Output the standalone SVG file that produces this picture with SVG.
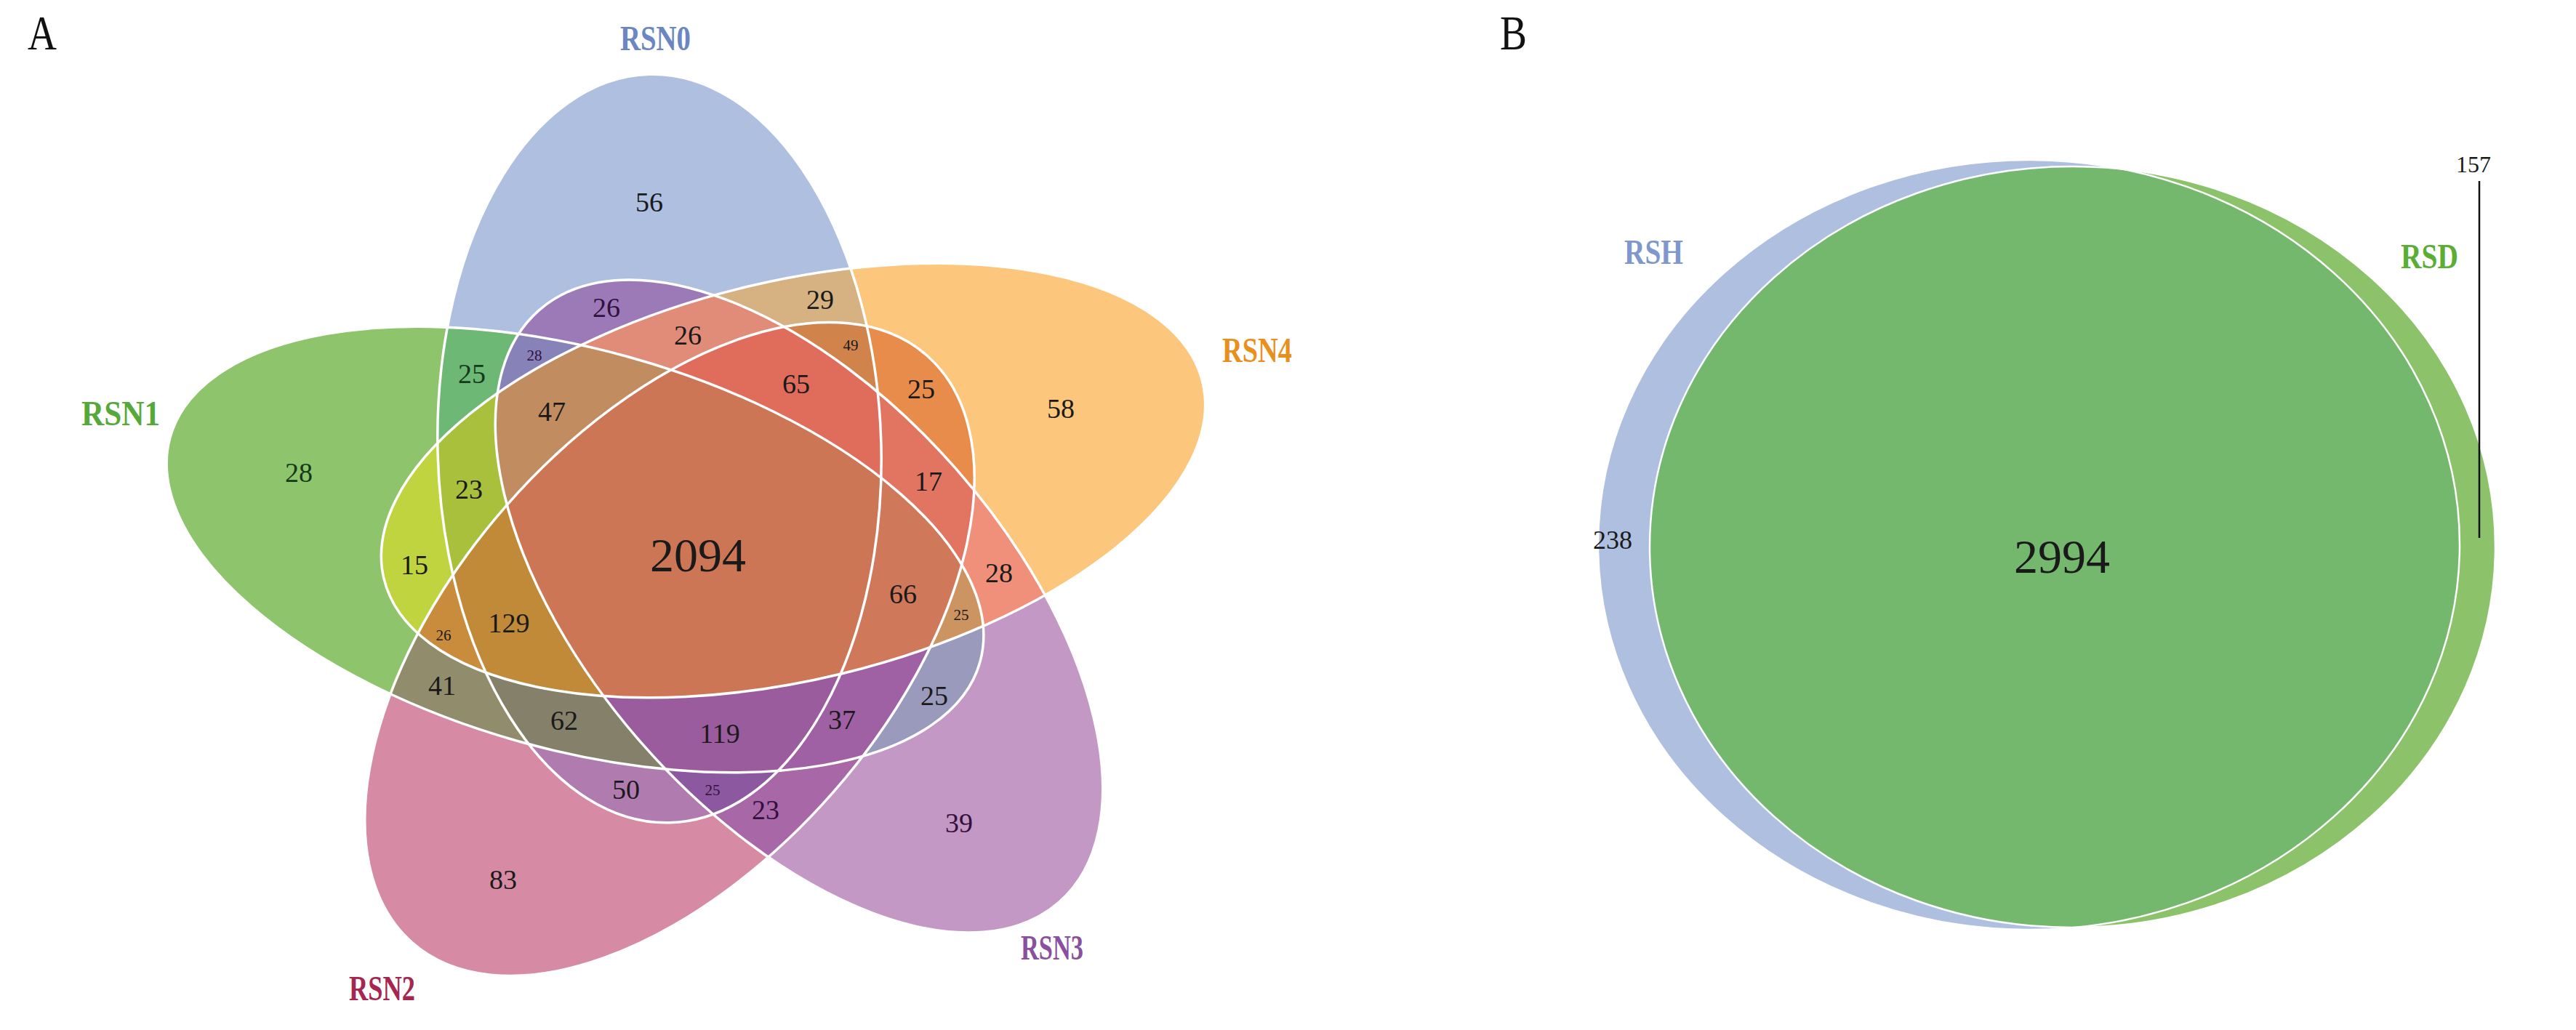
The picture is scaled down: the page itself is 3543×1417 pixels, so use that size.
<svg xmlns="http://www.w3.org/2000/svg" xmlns:xlink="http://www.w3.org/1999/xlink" width="3543" height="1417" viewBox="0 0 3543 1417">
<style>
 .num{font-family:"Liberation Serif",serif;font-size:38px;fill:#1a1a1a;text-anchor:middle}
 .sm{font-size:21px}
 .big{font-size:66px}
 .dp{fill:#33103f}
 .dg{fill:#143a1a}
 .cat{font-family:"Liberation Serif",serif;font-weight:bold;font-size:48px}
 .panel{font-family:"Liberation Serif",serif;font-size:68px;fill:#111}
 .edge{fill:none;stroke:#ffffff;stroke-width:3.5}
 .edgeB{fill:none;stroke:#ffffff;stroke-width:2.5}
</style>
<defs>
 <ellipse id="e0" cx="907" cy="617" rx="305" ry="515" transform="rotate(-1.6 907 617)"/>
 <ellipse id="e1" cx="791" cy="756" rx="578" ry="275" transform="rotate(15.5 791 756)"/>
 <ellipse id="e2" cx="921" cy="893" rx="537" ry="299" transform="rotate(-48.8 921 893)"/>
 <ellipse id="e3" cx="1099" cy="834" rx="542" ry="287" transform="rotate(48.7 1099 834)"/>
 <ellipse id="e4" cx="1091" cy="661" rx="579" ry="274" transform="rotate(-13.5 1091 661)"/>
 <clipPath id="c0"><use xlink:href="#e0"/></clipPath>
 <clipPath id="c1"><use xlink:href="#e1"/></clipPath>
 <clipPath id="c2"><use xlink:href="#e2"/></clipPath>
 <clipPath id="c3"><use xlink:href="#e3"/></clipPath>
 <ellipse id="eH" cx="2790.5" cy="749.5" rx="592.5" ry="529.5"/>
 <ellipse id="eD" cx="2850.5" cy="752.5" rx="581.5" ry="523.5"/>
 <clipPath id="clipH"><use xlink:href="#eH"/></clipPath>
</defs>
<rect width="3543" height="1417" fill="#ffffff"/>

<text class="panel" x="38" y="68" textLength="40" lengthAdjust="spacingAndGlyphs">A</text>
<text class="panel" x="2063" y="68" textLength="37" lengthAdjust="spacingAndGlyphs">B</text>

<!-- Panel A: five-set Venn; each set is a node -->
<g id="RSN0">
 <use xlink:href="#e0" fill="#aebfdf"/>
 <text class="cat" x="853" y="69" textLength="97" lengthAdjust="spacingAndGlyphs" fill="#6b86c3">RSN0</text>
</g>
<g id="RSN1">
 <use xlink:href="#e1" fill="#8ec46c"/>
 <text class="cat" x="112" y="585" textLength="108" lengthAdjust="spacingAndGlyphs" fill="#55a83a">RSN1</text>
</g>
<g id="RSN2">
 <use xlink:href="#e2" fill="#d68aa4"/>
 <text class="cat" x="480" y="1376" textLength="91" lengthAdjust="spacingAndGlyphs" fill="#a52650">RSN2</text>
</g>
<g id="RSN3">
 <use xlink:href="#e3" fill="#c398c4"/>
 <text class="cat" x="1404" y="1320" textLength="86" lengthAdjust="spacingAndGlyphs" fill="#8b4f9f">RSN3</text>
</g>
<g id="RSN4">
 <use xlink:href="#e4" fill="#fcc67c"/>
 <text class="cat" x="1681" y="498" textLength="96" lengthAdjust="spacingAndGlyphs" fill="#e8901e">RSN4</text>
</g>

<!-- overlap regions, painted from 2-set to 5-set intersections -->
<g id="overlaps">
 <g clip-path="url(#c0)"><use xlink:href="#e1" fill="#6cb874"/></g>
 <g clip-path="url(#c0)"><use xlink:href="#e2" fill="#b07cb0"/></g>
 <g clip-path="url(#c0)"><use xlink:href="#e3" fill="#9c7ab8"/></g>
 <g clip-path="url(#c0)"><use xlink:href="#e4" fill="#d6b282"/></g>
 <g clip-path="url(#c1)"><use xlink:href="#e2" fill="#908c6c"/></g>
 <g clip-path="url(#c1)"><use xlink:href="#e3" fill="#9a9abc"/></g>
 <g clip-path="url(#c1)"><use xlink:href="#e4" fill="#c0d440"/></g>
 <g clip-path="url(#c2)"><use xlink:href="#e3" fill="#a868a8"/></g>
 <g clip-path="url(#c2)"><use xlink:href="#e4" fill="#e88c4c"/></g>
 <g clip-path="url(#c3)"><use xlink:href="#e4" fill="#f0907a"/></g>

 <g clip-path="url(#c0)"><g clip-path="url(#c1)"><use xlink:href="#e2" fill="#84806a"/></g></g>
 <g clip-path="url(#c0)"><g clip-path="url(#c1)"><use xlink:href="#e3" fill="#8782b8"/></g></g>
 <g clip-path="url(#c0)"><g clip-path="url(#c1)"><use xlink:href="#e4" fill="#a8c03c"/></g></g>
 <g clip-path="url(#c0)"><g clip-path="url(#c2)"><use xlink:href="#e3" fill="#8c58a0"/></g></g>
 <g clip-path="url(#c0)"><g clip-path="url(#c2)"><use xlink:href="#e4" fill="#d0844c"/></g></g>
 <g clip-path="url(#c0)"><g clip-path="url(#c3)"><use xlink:href="#e4" fill="#e08c78"/></g></g>
 <g clip-path="url(#c1)"><g clip-path="url(#c2)"><use xlink:href="#e3" fill="#a060a4"/></g></g>
 <g clip-path="url(#c1)"><g clip-path="url(#c2)"><use xlink:href="#e4" fill="#c88c3c"/></g></g>
 <g clip-path="url(#c1)"><g clip-path="url(#c3)"><use xlink:href="#e4" fill="#cc9460"/></g></g>
 <g clip-path="url(#c2)"><g clip-path="url(#c3)"><use xlink:href="#e4" fill="#e27462"/></g></g>

 <g clip-path="url(#c0)"><g clip-path="url(#c1)"><g clip-path="url(#c2)"><use xlink:href="#e3" fill="#9a5c9c"/></g></g></g>
 <g clip-path="url(#c0)"><g clip-path="url(#c1)"><g clip-path="url(#c2)"><use xlink:href="#e4" fill="#c08a38"/></g></g></g>
 <g clip-path="url(#c0)"><g clip-path="url(#c1)"><g clip-path="url(#c3)"><use xlink:href="#e4" fill="#c08c60"/></g></g></g>
 <g clip-path="url(#c0)"><g clip-path="url(#c2)"><g clip-path="url(#c3)"><use xlink:href="#e4" fill="#e06c5c"/></g></g></g>
 <g clip-path="url(#c1)"><g clip-path="url(#c2)"><g clip-path="url(#c3)"><use xlink:href="#e4" fill="#d0785a"/></g></g></g>

 <g clip-path="url(#c0)"><g clip-path="url(#c1)"><g clip-path="url(#c2)"><g clip-path="url(#c3)"><use xlink:href="#e4" fill="#cc7656"/></g></g></g></g>
</g>

<g id="outlines">
 <use xlink:href="#e0" class="edge"/>
 <use xlink:href="#e1" class="edge"/>
 <use xlink:href="#e2" class="edge"/>
 <use xlink:href="#e3" class="edge"/>
 <use xlink:href="#e4" class="edge"/>
</g>

<g id="counts-A">
 <text class="num" x="893" y="291">56</text>
 <text class="num dp" x="834" y="436">26</text>
 <text class="num" x="946" y="474">26</text>
 <text class="num sm dp" x="735" y="496">28</text>
 <text class="num dg" x="649" y="527">25</text>
 <text class="num" x="759" y="579">47</text>
 <text class="num" x="645" y="686">23</text>
 <text class="num" x="570" y="790">15</text>
 <text class="num" x="700" y="870">129</text>
 <text class="num sm" x="610" y="881">26</text>
 <text class="num big" x="960" y="786">2094</text>
 <text class="num dg" x="411" y="663">28</text>
 <text class="num" x="1128" y="425">29</text>
 <text class="num sm" x="1170" y="482">49</text>
 <text class="num" x="1095" y="541">65</text>
 <text class="num" x="1267" y="548">25</text>
 <text class="num" x="1459" y="575">58</text>
 <text class="num" x="1277" y="675">17</text>
 <text class="num" x="1374" y="801">28</text>
 <text class="num" x="1242" y="830">66</text>
 <text class="num sm" x="1322" y="853">25</text>
 <text class="num" x="1285" y="970">25</text>
 <text class="num" x="1158" y="1003">37</text>
 <text class="num" x="990" y="1022">119</text>
 <text class="num sm dp" x="980" y="1094">25</text>
 <text class="num dp" x="1053" y="1127">23</text>
 <text class="num dp" x="1319" y="1145">39</text>
 <text class="num" x="608" y="956">41</text>
 <text class="num" x="776" y="1004">62</text>
 <text class="num" x="861" y="1099">50</text>
 <text class="num" x="692" y="1223">83</text>
</g>

<!-- Panel B: two-set Venn -->
<g id="RSH">
 <use xlink:href="#eH" fill="#aebfdf"/>
 <text class="cat" x="2234" y="363" textLength="81" lengthAdjust="spacingAndGlyphs" fill="#7e97cc">RSH</text>
</g>
<g id="RSD">
 <use xlink:href="#eD" fill="#8cc26a"/>
 <text class="cat" x="3302" y="369" textLength="79" lengthAdjust="spacingAndGlyphs" fill="#5aad35">RSD</text>
</g>
<g id="overlap-B">
 <use xlink:href="#eD" fill="#74b86e" clip-path="url(#clipH)"/>
 <use xlink:href="#eH" class="edgeB"/>
 <use xlink:href="#eD" class="edgeB"/>
</g>

<g id="connectors">
 <line x1="3410" y1="249" x2="3410" y2="740" stroke="#111" stroke-width="2.5"/>
</g>

<g id="counts-B">
 <text class="num" x="2218" y="755" style="font-size:36px">238</text>
 <text class="num big" x="2836" y="788">2994</text>
 <text class="num" x="3402" y="237" style="font-size:32px">157</text>
</g>
</svg>
